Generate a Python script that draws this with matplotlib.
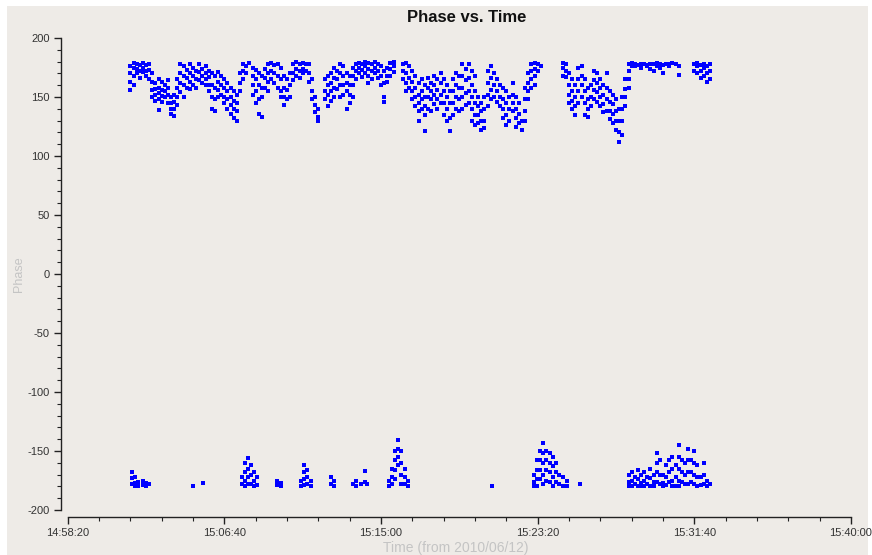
import matplotlib
matplotlib.use('Agg')
import matplotlib.pyplot as plt
from matplotlib.ticker import MultipleLocator, FuncFormatter
from matplotlib.patches import Rectangle

# ---- data: time in seconds after 14:58:20, phase in degrees ----
upper_t = [200, 210, 220, 230, 240, 250, 260, 270, 280, 290, 300, 310, 320, 330, 340, 350,
           360, 370, 380, 390, 400, 410, 420, 430, 440, 450, 460, 470, 480, 490, 500, 510,
           520, 530, 540, 550, 560, 570, 580, 590, 600, 610, 620, 630, 640, 650, 660, 670,
           680, 690, 700, 710, 720, 730, 740, 750, 760, 770, 780, 790, 800, 820, 830, 840,
           850, 860, 870, 880, 890, 900, 910, 920, 930, 940, 950, 960, 970, 980, 990, 1000,
           1010, 1020, 1030, 1040, 1070, 1080, 1090, 1100, 1110, 1120, 1130, 1140, 1150,
           1160, 1170, 1180, 1190, 1200, 1210, 1220, 1230, 1240, 1250, 1260, 1270, 1280,
           1290, 1300, 1310, 1320, 1330, 1340, 1350, 1360, 1370, 1380, 1390, 1400, 1410,
           1420, 1430, 1440, 1450, 1460, 1470, 1480, 1490, 1500, 1510, 1580, 1590, 1600,
           1610, 1620, 1630, 1640, 1650, 1660, 1670, 1680, 1690, 1700, 1710, 1720, 1730,
           1740, 1750, 1760, 1770, 1780, 1790, 1800, 1810, 1820, 1830, 1840, 1850, 1860,
           1870, 1880, 1890, 1900, 1910, 1920, 1930, 1940, 1950, 2000, 2010, 2020, 2030,
           2040, 2050]
upper_p = [
    [176, 170, 163, 156], [179, 175, 168, 160], [178, 174, 170], [177, 172, 166],
    [179, 175, 171], [177, 172, 168], [178, 173, 165], [170, 163, 156, 150],
    [162, 157, 152, 147], [165, 158, 153, 148, 139], [163, 156, 151, 146], [160, 155, 150],
    [164, 158, 152, 145], [150, 145, 140, 136], [152, 146, 140, 134], [165, 158, 150, 143],
    [178, 170, 162, 154], [176, 168, 160, 150], [173, 166, 158], [178, 170, 163, 157],
    [175, 168, 160], [172, 165, 158], [178, 171, 164], [174, 168, 162],
    [176, 170, 165, 160], [172, 167, 160, 155], [170, 160, 150, 140], [168, 158, 148, 138],
    [171, 163, 156, 150], [168, 160, 152], [165, 158, 150, 145], [162, 155, 148, 140],
    [158, 150, 143, 136], [155, 147, 140, 132], [152, 145, 138, 130], [170, 162, 155],
    [178, 172, 165], [176, 170], [179], [175, 168, 160, 152],
    [173, 165, 155, 145], [170, 160, 148, 136], [168, 158, 150, 133], [174, 166, 158],
    [178, 170, 163, 155], [179, 172, 165], [177, 170, 162], [178, 168, 158],
    [175, 165, 155, 150], [168, 158, 150, 143], [165, 156, 148], [170, 160, 150],
    [178, 170, 164], [180, 174, 168], [178, 172, 166], [179, 174, 170],
    [178, 172], [178, 170, 163], [165, 155, 148], [150, 143, 137],
    [140, 133, 130], [165, 155, 148], [168, 160, 152, 142], [170, 162, 155, 147],
    [175, 166, 158, 150], [172, 165, 157], [178, 170, 160, 150], [176, 168, 160, 152],
    [170, 162, 155, 140], [168, 160, 152, 145], [175, 168, 160, 150], [178, 172, 165],
    [179, 175, 170], [178, 173, 167], [180, 176, 170], [179, 174, 168, 162],
    [178, 172, 165], [180, 175, 170], [178, 172, 166], [176, 168, 160],
    [172, 162, 150, 146], [175, 168, 163], [179, 174, 168], [180, 176, 171],
    [178, 172, 165], [179, 170, 162, 155], [176, 166, 158], [172, 163, 155, 148],
    [168, 158, 150, 142], [162, 152, 145, 138, 130], [165, 155, 148, 140], [160, 150, 142, 135, 121],
    [166, 158, 150, 140], [162, 155, 148, 138], [168, 160, 152, 144], [165, 156, 148, 140],
    [170, 162, 152, 145], [165, 155, 145, 135], [160, 150, 140, 130], [155, 145, 132, 121],
    [165, 155, 145, 135], [170, 160, 150, 140], [168, 158, 148, 138], [178, 168, 158, 150, 140],
    [174, 164, 153, 143], [178, 166, 155, 145], [172, 160, 150, 140, 130], [168, 155, 145, 135, 126],
    [150, 142, 135, 128], [145, 138, 130, 122], [150, 140, 130, 124], [172, 162, 152, 142],
    [176, 166, 156, 148], [170, 160, 150], [165, 155, 146], [160, 150, 142],
    [158, 148, 140, 132], [155, 145, 135, 126], [150, 140, 130], [162, 152, 145, 138],
    [150, 140, 132, 125], [145, 136, 128], [130, 122], [158, 148, 138, 130],
    [170, 162, 155, 148], [178, 172, 165, 158], [179, 174, 168, 160], [178, 172],
    [176], [179, 175, 168], [178, 172, 167], [170, 160, 152, 145],
    [165, 155, 147, 140], [160, 150, 142, 135], [175, 165, 155, 145], [176, 168, 160, 150],
    [165, 155, 145, 135], [158, 148, 140, 133], [160, 150, 142], [172, 164, 156, 148],
    [170, 162, 154, 146], [165, 158, 150, 142], [160, 152, 144, 137], [170, 158, 148, 138],
    [155, 146, 138, 131], [152, 144, 136, 128], [148, 138, 130, 122], [140, 130, 120, 112],
    [150, 140, 130, 118], [165, 157, 150, 142], [178, 172, 165, 158], [179, 176],
    [178, 176], [177], [178, 175], [178],
    [177, 176], [178, 174], [178, 172], [179, 176],
    [178, 175], [177, 170], [178], [178, 176],
    [179], [178], [176, 169], [178, 172],
    [179, 176, 170], [177, 172, 166], [178, 175, 168], [176, 170, 163],
    [178, 172, 165]]

lower_t = [205, 215, 225, 240, 250, 260, 400, 432, 555, 565, 575, 585, 595, 605, 668, 680,
           745, 755, 765, 775, 840, 850, 910, 920, 935, 948, 955, 1025, 1035, 1045, 1055,
           1065, 1075, 1085, 1354, 1488, 1498, 1508, 1518, 1528, 1538, 1548, 1558, 1568,
           1580, 1595, 1635, 1790, 1800, 1810, 1820, 1830, 1840, 1850, 1860, 1870, 1880,
           1890, 1900, 1910, 1920, 1930, 1940, 1950, 1960, 1970, 1980, 1990, 2000, 2010,
           2020, 2030, 2040, 2050]
lower_p = [
    [-168, -173, -178], [-172, -177, -180], [-176, -180], [-175, -179], [-177, -180], [-178],
    [-180], [-177],
    [-172, -178], [-160, -168, -175, -180], [-156, -165, -172, -178], [-162, -170, -178],
    [-168, -175, -180], [-172, -179], [-175, -179], [-177, -180],
    [-175, -180], [-162, -168, -174, -179], [-166, -172, -178], [-175, -180],
    [-172, -178], [-175, -180], [-178], [-175, -180], [-178], [-167, -176], [-178],
    [-175, -180], [-165, -172, -178], [-150, -158, -166, -174], [-141, -148, -155, -162],
    [-150, -160, -170, -178], [-165, -172, -178], [-175, -180], [-180],
    [-170, -176, -180], [-158, -166, -174, -180], [-150, -158, -166, -174],
    [-143, -152, -160, -170, -178], [-150, -158, -166, -175], [-152, -160, -168, -176],
    [-155, -163, -172, -180], [-160, -168, -176], [-170, -178], [-172, -180], [-175, -180],
    [-178],
    [-170, -176, -180], [-168, -175, -180], [-172, -178], [-166, -174, -180],
    [-170, -177, -180], [-168, -175, -180], [-172, -178], [-165, -173, -180],
    [-170, -176, -180], [-152, -160, -168, -176], [-158, -170, -178], [-170, -177, -180],
    [-162, -172, -179], [-158, -168, -176], [-155, -165, -175, -180],
    [-162, -172, -180], [-145, -155, -165, -175, -180], [-158, -168, -176],
    [-160, -170, -178], [-148, -158, -168, -178], [-158, -168, -176],
    [-150, -160, -170, -178], [-162, -172, -180], [-172, -179], [-160, -170, -178],
    [-175, -180], [-178]]

x_ticks = [0, 500, 1000, 1500, 2000, 2500]
y_ticks = [-200, -150, -100, -50, 0, 50, 100, 150, 200]
start_h, start_m, start_s = 14, 58, 20

plt.rcParams['font.family'] = ['Liberation Sans', 'DejaVu Sans']
plt.rcParams['axes.unicode_minus'] = False

W, H = 872, 555
fig = plt.figure(figsize=(W / 100, H / 100), dpi=100, facecolor='white')
bg = '#eeebe7'
fig.patches.append(Rectangle((7 / W, 0), (868 - 7) / W, (H - 6) / H,
                             transform=fig.transFigure, facecolor=bg,
                             edgecolor='none', zorder=-10))

ax = fig.add_axes([61 / W, (H - 517) / H, (851 - 61) / W, (517 - 38) / H])
ax.set_facecolor('none')

xs, ys = [], []
for t, vals in zip(upper_t, upper_p):
    for v in vals:
        xs.append(t); ys.append(v)
for t, vals in zip(lower_t, lower_p):
    for v in vals:
        xs.append(t); ys.append(v)
ax.plot(xs, ys, linestyle='none', marker='s', markersize=3.0,
        markeredgewidth=0, color='#0000ff')

ax.set_xlim(-21.4, 2500)
ax.set_ylim(-205.9, 200)
for s in ['top', 'right']:
    ax.spines[s].set_visible(False)
ax.spines['left'].set_bounds(-200, 200)
ax.spines['bottom'].set_bounds(0, 2500)
for s in ['left', 'bottom']:
    ax.spines[s].set_color('#222222')
    ax.spines[s].set_linewidth(1.0)

def fmt(v, pos):
    total = start_h * 3600 + start_m * 60 + start_s + int(round(v))
    return '%02d:%02d:%02d' % (total // 3600, (total % 3600) // 60, total % 60)

ax.set_xticks(x_ticks)
ax.xaxis.set_major_formatter(FuncFormatter(fmt))
ax.xaxis.set_minor_locator(MultipleLocator(100))
ax.set_yticks(y_ticks)
ax.yaxis.set_minor_locator(MultipleLocator(10))
ax.tick_params(which='major', length=5, width=1, color='#222222',
               labelsize=8, labelcolor='#333333', pad=3)
ax.tick_params(which='minor', length=3, width=0.8, color='#222222')

ax.set_xlabel('Time (from 2010/06/12)', fontsize=10, color='#c4c4c4', labelpad=2)
ax.set_ylabel('Phase', fontsize=9, color='#c4c4c4')
ax.yaxis.set_label_coords((25 - 61) / (851 - 61), (517 - 274) / (517 - 38))
fig.text(467 / W, 1 - 17 / H, 'Phase vs. Time', ha='center', va='center',
         fontsize=12, fontweight='bold', color='#111111')

fig.savefig('out.png', dpi=100, facecolor='white')
